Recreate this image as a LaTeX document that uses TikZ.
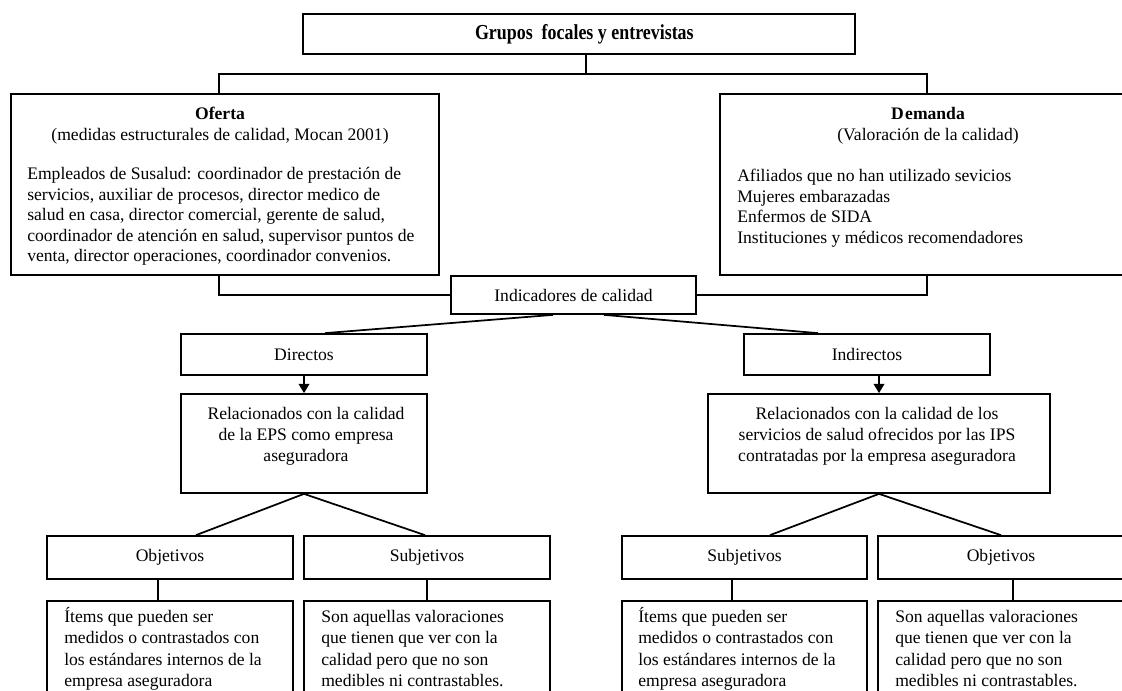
\documentclass[tikz,border=0pt]{standalone}
\usepackage{fontspec}
\setmainfont{Liberation Serif}
\usetikzlibrary{arrows.meta}
\begin{document}
\begin{tikzpicture}[x=0.75pt,y=-0.75pt,
  box/.style={draw, line width=1.3pt, inner sep=0pt, font=\fontsize{13.2}{15}\selectfont},
  conn/.style={line width=1.3pt},
  arr/.style={line width=1.3pt,-{Triangle[length=7pt,width=8pt]}},
  para/.style={inner sep=0pt, font=\fontsize{13.2}{15.4}\selectfont},
  ]
\newcommand{\fl}{\rule{0pt}{11.5pt}}
\useasboundingbox (0,0) rectangle (1122,690);
\clip (0,0) rectangle (1122,690);

% boxes
\node[box, minimum width=414pt, minimum height=30pt] (top) at (579,34)
  {\hspace*{8pt}\scalebox{0.84}[1]{\fontsize{16}{18}\selectfont\bfseries Grupos\ \ focales y entrevistas}};
\node[box, minimum width=321pt, minimum height=135.75pt] (ofe) at (225,184.5) {};
\node[box, minimum width=303pt, minimum height=135.75pt] (dem) at (922,184.5) {};
\node[box, minimum width=183.75pt, minimum height=28.5pt, fill=white] (ind) at (573.5,295) {Indicadores de calidad};
\node[box, minimum width=184.5pt, minimum height=30.75pt] (dir) at (304,354.5) {Directos};
\node[box, minimum width=184.5pt, minimum height=30.75pt] (indir) at (867,354.5) {Indirectos};
\node[box, minimum width=184.5pt, minimum height=74.25pt] (rel1) at (304,443.5) {};
\node[box, minimum width=256.5pt, minimum height=74.25pt] (rel2) at (879,443.5) {};
\node[box, minimum width=184.5pt, minimum height=32.25pt] (obj1) at (170,557.5) {Objetivos};
\node[box, minimum width=184.5pt, minimum height=32.25pt] (sub1) at (427,557.5) {Subjetivos};
\node[box, minimum width=183.75pt, minimum height=32.25pt] (sub2) at (744.5,557.5) {Subjetivos};
\node[box, minimum width=184.5pt, minimum height=32.25pt] (obj2) at (1001,557.5) {Objetivos};
\node[box, minimum width=184.5pt, minimum height=74.25pt] (t1) at (170,650.5) {};
\node[box, minimum width=184.5pt, minimum height=74.25pt] (t2) at (427,650.5) {};
\node[box, minimum width=183.75pt, minimum height=74.25pt] (t3) at (744.5,650.5) {};
\node[box, minimum width=184.5pt, minimum height=74.25pt] (t4) at (1001,650.5) {};

% texts
\node[para, align=center, anchor=north] (ofeh) at (220,104)
  {\fl\textbf{Oferta}\\(medidas estructurales de calidad, Mocan 2001)};
\node[para, align=left, anchor=north west] (ofel) at (27,164)
  {\fl Empleados de Susalud: coordinador de prestación de\\
   servicios, auxiliar de procesos, director medico de\\
   salud en casa, director comercial, gerente de salud,\\
   coordinador de atención en salud, supervisor puntos de\\
   venta, director operaciones, coordinador convenios.};
\node[para, align=center, anchor=north] (demh) at (928,104)
  {\fl\textbf{D\kern1pt emanda}\\(Valoración de la calidad)};
\node[para, align=left, anchor=north west] (deml) at (737,166)
  {\fl Afiliados que no han utilizado sevicios\\
   Mujeres embarazadas\\
   Enfermos de SIDA\\
   Instituciones y médicos recomendadores};
\node[para, align=center, anchor=north, font=\fontsize{13.2}{15.75}\selectfont] (rel1t) at (306,404)
  {\fl Relacionados con la calidad\\de la EPS como empresa\\aseguradora};
\node[para, align=center, anchor=north, font=\fontsize{13.2}{15.75}\selectfont] (rel2t) at (877,404)
  {\fl Relacionados con la calidad de los\\servicios de salud ofrecidos por las IPS\\contratadas por la empresa aseguradora};
\node[para, align=left, anchor=north west, font=\fontsize{13.2}{16}\selectfont] (t1t) at (64,607)
  {\fl Ítems que pueden ser\\medidos o contrastados con\\los estándares internos de la\\empresa aseguradora};
\node[para, align=left, anchor=north west, font=\fontsize{13.2}{16}\selectfont] (t2t) at (321,607)
  {\fl Son aquellas valoraciones\\que tienen que ver con la\\calidad pero que no son\\medibles ni contrastables.};
\node[para, align=left, anchor=north west, font=\fontsize{13.2}{16}\selectfont] (t3t) at (638,607)
  {\fl Ítems que pueden ser\\medidos o contrastados con\\los estándares internos de la\\empresa aseguradora};
\node[para, align=left, anchor=north west, font=\fontsize{13.2}{16}\selectfont] (t4t) at (895,607)
  {\fl Son aquellas valoraciones\\que tienen que ver con la\\calidad pero que no son\\medibles ni contrastables.};

% connectors
\coordinate (hub) at (586,74);
\draw[conn] (top.south -| hub) -- (hub);
\draw[conn] (ofe.north -| 219,0) |- (hub) -| (dem.north -| 927,0);
\draw[conn] (ofe.south -| 219,0) |- (ind.west);
\draw[conn] (dem.south -| 927,0) |- (ind.east);
\draw[conn] (ind.south -| 553,0) -- (dir.north -| 325,0);
\draw[conn] (ind.south -| 604,0) -- (indir.north -| 818,0);
\draw[arr] (dir.south -| rel1.north) -- (rel1.north);
\draw[arr] (indir.south -| rel2.north) -- (rel2.north);
\draw[conn] (rel1.south) -- (obj1.north -| 196,0);
\draw[conn] (rel1.south) -- (sub1.north -| 425,0);
\draw[conn] (rel2.south) -- (sub2.north -| 770,0);
\draw[conn] (rel2.south) -- (obj2.north -| 1001,0);
\draw[conn] (obj1.south -| 158,0) -- (t1.north -| 158,0);
\draw[conn] (sub1.south) -- (t2.north);
\draw[conn] (sub2.south -| 732,0) -- (t3.north -| 732,0);
\draw[conn] (obj2.south -| 1013,0) -- (t4.north -| 1013,0);
\end{tikzpicture}
\end{document}
